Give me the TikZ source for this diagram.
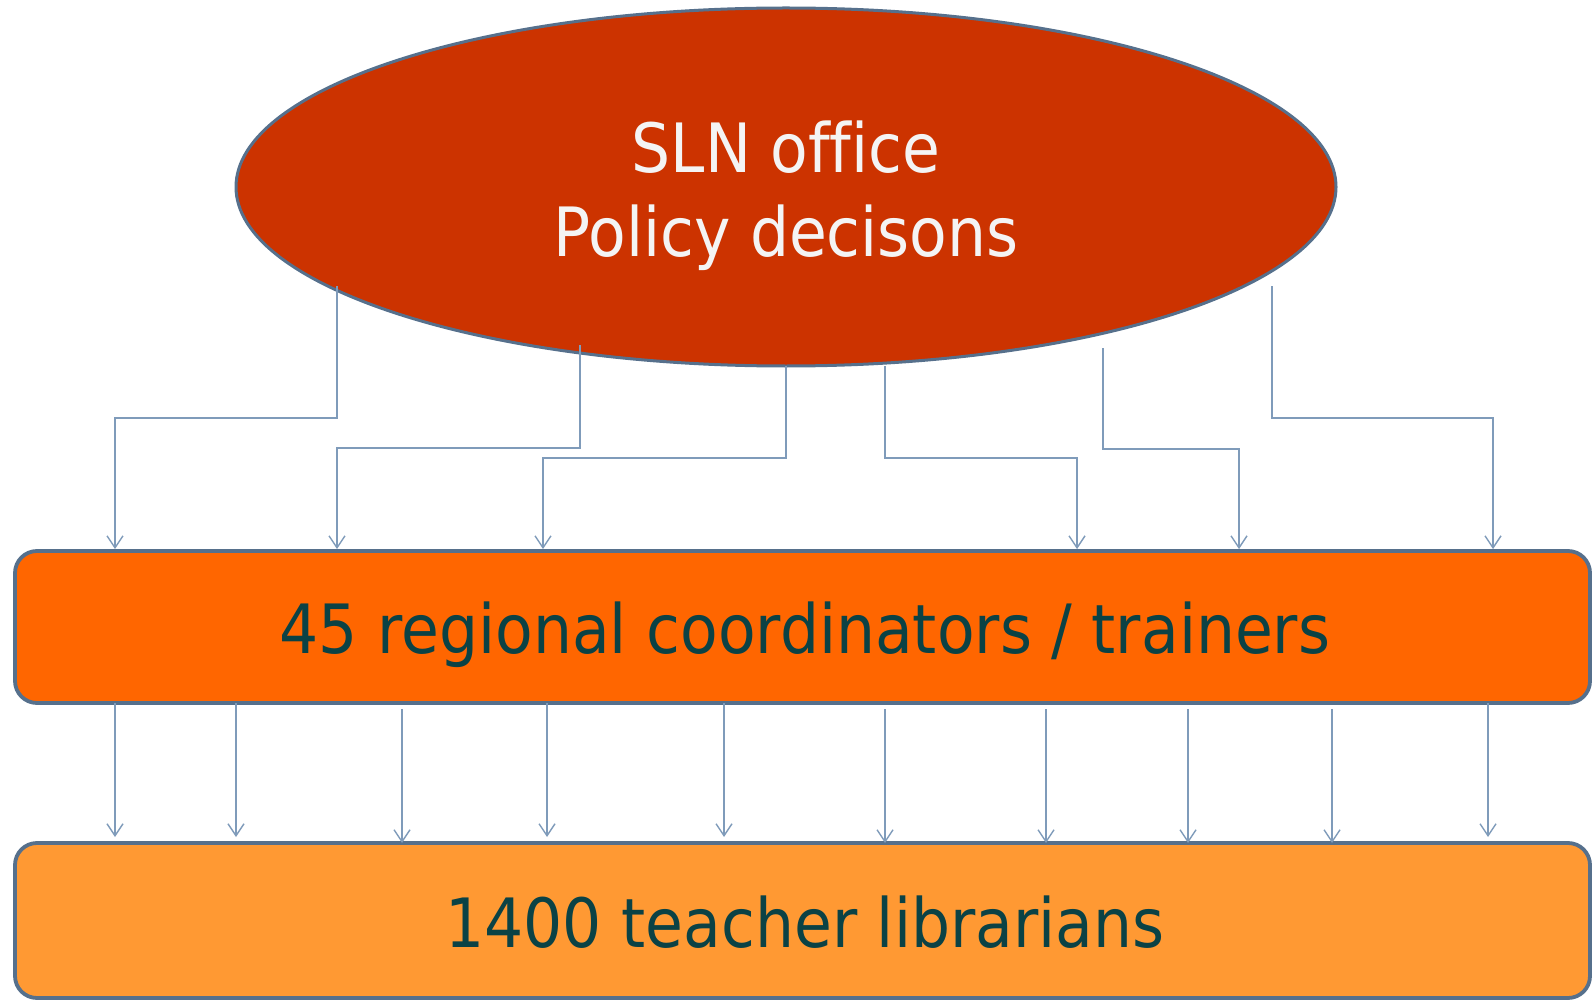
\documentclass[tikz,border=0pt]{standalone}
\usepackage{fontspec}
\usetikzlibrary{shapes.geometric,arrows.meta}
\newfontfamily\tah[FakeStretch=0.905,Ligatures=NoCommon]{DejaVu Sans}
\definecolor{ellfill}{HTML}{CC3300}
\definecolor{regfill}{HTML}{FF6600}
\definecolor{libfill}{HTML}{FF9933}
\definecolor{bord}{HTML}{56708C}
\definecolor{conncol}{HTML}{7F9BBA}
\definecolor{darktxt}{HTML}{0B4245}
\definecolor{lighttxt}{HTML}{F4F4F4}
\begin{document}
\begin{tikzpicture}[x=1pt,y=-1pt,
  conn/.style={draw=conncol,line width=1.4pt,-{Straight Barb[length=12pt,width=16pt,line width=1.4pt]}},
  boxstyle/.style={draw=bord,line width=3.8pt,rounded corners=22pt,inner sep=0pt},
  bigtxt/.style={font=\tah\fontsize{68}{80}\selectfont,anchor=base,inner sep=0pt}]
\useasboundingbox (0,0) rectangle (1592,1000);
% shapes
\node[ellipse,draw=bord,line width=3pt,fill=ellfill,minimum width=1100pt,minimum height=358pt,inner sep=0pt] (sln) at (786,187) {};
\node[boxstyle,fill=regfill,minimum width=1575pt,minimum height=152pt] (reg) at (802.5,627) {};
\node[boxstyle,fill=libfill,minimum width=1575pt,minimum height=155pt] (lib) at (802.5,920.5) {};
% texts
\node[bigtxt,text=lighttxt] (t1) at (786,173) {SLN office};
\node[bigtxt,text=lighttxt] (t2) at (786,257) {Policy decisons};
\node[bigtxt,text=darktxt] (t3) at (805,653) {45 regional coordinators / trainers};
\node[bigtxt,text=darktxt] (t4) at (805,947) {1400 teacher librarians};
% upper connectors
\coordinate (sA) at (337,286); \coordinate (hA) at (115,418);
\coordinate (sB) at (580,345); \coordinate (hB) at (337,448);
\coordinate (sC) at (786,366); \coordinate (hC) at (543,458);
\coordinate (sD) at (885,366); \coordinate (hD) at (1077,458);
\coordinate (sE) at (1103,348); \coordinate (hE) at (1239,449);
\coordinate (sF) at (1272,286); \coordinate (hF) at (1493,418);
\foreach \k in {A,B,C,D,E,F}{
  \draw[conn] (s\k) |- (h\k) -- (h\k |- reg.north);
}
% lower connectors
\foreach \x/\ys/\ye [count=\i] in {115/703/837, 236/703/837, 402/709/843, 547/703/837, 724/703/837, 885/709/843, 1046/709/843, 1188/709/843, 1332/709/843, 1488/703/837}{
  \coordinate (b\i) at (\x,\ys);
  \coordinate (e\i) at (\x,\ye);
  \draw[conn] (b\i) -- (e\i);
}
\end{tikzpicture}
\end{document}
